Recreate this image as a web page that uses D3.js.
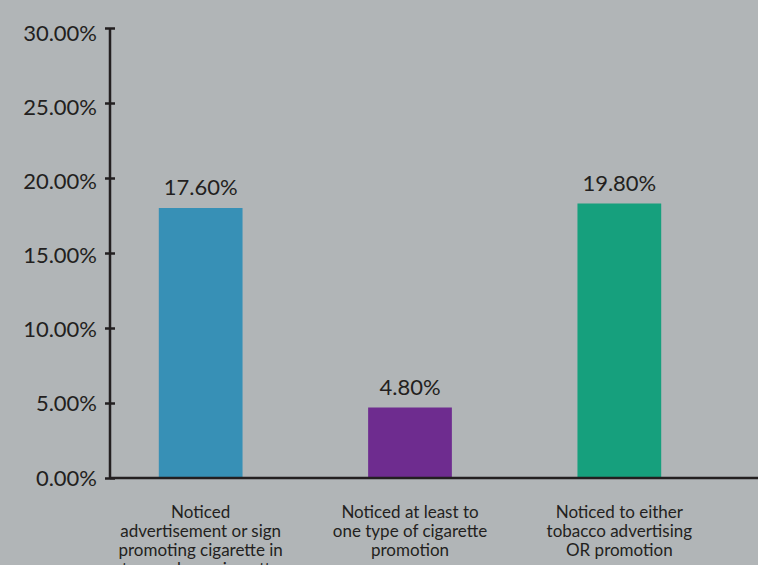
<!DOCTYPE html>
<html>
<head>
<meta charset="utf-8">
<script src="https://cdn.jsdelivr.net/npm/d3@7"></script>
<style>
  html, body { margin: 0; padding: 0; background: #b1b5b7; }
  svg { display: block; }
  text { font-family: Lato, "Open Sans", sans-serif; fill: #231f20; }
</style>
</head>
<body>
<svg id="chart" width="758" height="565"></svg>
<script>
// bar heights as drawn, and the value labels printed over them
const categories = ["promo_store", "promo_any", "either"];
const categoryLabels = [
  ["Noticed", "advertisement or sign", "promoting cigarette in", "stores where cigarettes"],
  ["Noticed at least to", "one type of cigarette", "promotion"],
  ["Noticed to either", "tobacco advertising", "OR promotion"]
];
const barValues = [18.0, 4.7, 18.3];
const valueLabels = ["17.60%", "4.80%", "19.80%"];
const barColors = ["#3790b6", "#6e2c8f", "#16a07d"];
const yTicks = [0, 5, 10, 15, 20, 25, 30];

const svg = d3.select("#chart");
const ink = "#231f20";

const y = d3.scaleLinear().domain([0, 30]).range([478, 28]);
const x = d3.scaleBand()
  .domain(categories)
  .range([96, 724])
  .paddingInner(0.6)
  .paddingOuter(0.3);

// bars
svg.append("g")
  .selectAll("rect")
  .data(categories)
  .join("rect")
  .attr("x", d => x(d))
  .attr("width", x.bandwidth())
  .attr("y", (d, i) => y(barValues[i]))
  .attr("height", (d, i) => y(0) - y(barValues[i]))
  .attr("fill", (d, i) => barColors[i]);

// value labels
svg.append("g")
  .selectAll("text")
  .data(categories)
  .join("text")
  .attr("x", d => x(d) + x.bandwidth() / 2)
  .attr("y", (d, i) => y(barValues[i]) - 13)
  .attr("text-anchor", "middle")
  .style("font-size", "22px")
  .text((d, i) => valueLabels[i]);

// y axis
const yAxis = svg.append("g")
  .attr("transform", "translate(110,0)")
  .call(d3.axisLeft(y).tickValues(yTicks).tickSize(5).tickPadding(8)
    .tickFormat(d => d.toFixed(2) + "%"));
yAxis.select(".domain").attr("stroke", ink).attr("stroke-width", 2.5)
  .attr("d", "M0," + y(30) + "V" + y(0));
yAxis.selectAll(".tick line").attr("stroke", ink).attr("stroke-width", 2.5)
  .attr("x1", 5).attr("x2", -5);
yAxis.selectAll(".tick text")
  .attr("fill", ink)
  .attr("dy", (d) => (0.32 + d / 30 * 0.25) + "em")
  .style("font-size", "22px")
  .style("font-family", "Lato, 'Open Sans', sans-serif");

// x axis baseline
svg.append("line")
  .attr("x1", 110).attr("x2", 758)
  .attr("y1", y(0)).attr("y2", y(0))
  .attr("stroke", ink).attr("stroke-width", 2.5);

// category labels
const cat = svg.append("g")
  .selectAll("text")
  .data(categories)
  .join("text")
  .attr("text-anchor", "middle")
  .style("font-size", "17px")
  .attr("transform", d => "translate(" + (x(d) + x.bandwidth() / 2) + ",518)");
cat.selectAll("tspan")
  .data((d, i) => categoryLabels[i])
  .join("tspan")
  .attr("x", 0)
  .attr("y", (d, i) => i * 19)
  .text(d => d);
</script>
</body>
</html>
